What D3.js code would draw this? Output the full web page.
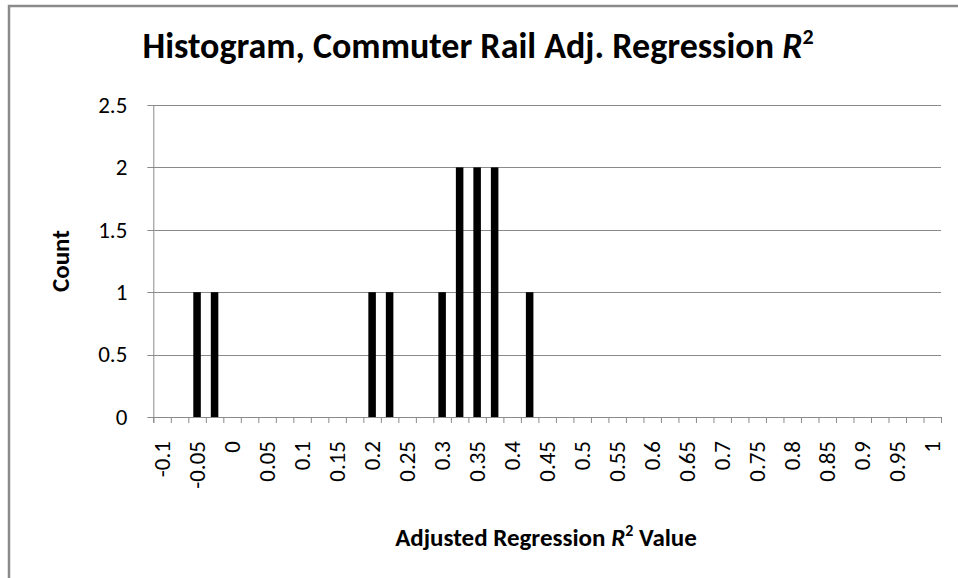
<!DOCTYPE html>
<html>
<head>
<meta charset="utf-8">
<script src="https://cdn.jsdelivr.net/npm/d3@7"></script>
<style>
  body { margin: 0; background: #fff; }
  svg { display: block; font-family: Calibri, Carlito, Lato, sans-serif; }
</style>
</head>
<body>
<svg id="chart"></svg>
<script>
// Data
const categories = ["-0.1", "-0.075", "-0.05", "-0.025", "0", "0.025", "0.05", "0.075", "0.1", "0.125",
  "0.15", "0.175", "0.2", "0.225", "0.25", "0.275", "0.3", "0.325", "0.35", "0.375",
  "0.4", "0.425", "0.45", "0.475", "0.5", "0.525", "0.55", "0.575", "0.6", "0.625",
  "0.65", "0.675", "0.7", "0.725", "0.75", "0.775", "0.8", "0.825", "0.85", "0.875",
  "0.9", "0.925", "0.95", "0.975", "1"];
const counts = [0, 0, 1, 1, 0, 0, 0, 0, 0, 0,
  0, 0, 1, 1, 0, 0, 1, 2, 2, 2,
  0, 1, 0, 0, 0, 0, 0, 0, 0, 0,
  0, 0, 0, 0, 0, 0, 0, 0, 0, 0,
  0, 0, 0, 0, 0];
const xTickLabels = ["-0.1", "-0.05", "0", "0.05", "0.1", "0.15", "0.2", "0.25", "0.3", "0.35", "0.4",
  "0.45", "0.5", "0.55", "0.6", "0.65", "0.7", "0.75", "0.8", "0.85", "0.9", "0.95", "1"];
const yTicks = [0, 0.5, 1, 1.5, 2, 2.5];

// Dimensions
const width = 958;
const height = 578;
const plotLeft = 153.3, plotRight = 941, plotTop = 105, plotBottom = 417;
const labelFont = "Calibri, Carlito, Lato, sans-serif";

const svg = d3.select("#chart")
  .attr("width", width)
  .attr("height", height);

// Outer frame (right and bottom edges fall outside the picture)
svg.append("rect")
  .attr("x", 9).attr("y", 6)
  .attr("width", width + 20).attr("height", height + 20)
  .attr("fill", "none")
  .attr("stroke", "#8a8a8a")
  .attr("stroke-width", 2.5);

// Scales
const x = d3.scaleBand()
  .domain(categories)
  .range([plotLeft, plotRight])
  .paddingInner(0.57)
  .paddingOuter(0.285);

const xEdge = d3.scaleLinear()
  .domain([0, categories.length])
  .range([plotLeft, plotRight]);

const y = d3.scaleLinear()
  .domain([0, 2.5])
  .range([plotBottom, plotTop]);

// Gridlines
svg.append("g")
  .selectAll("line")
  .data(yTicks)
  .enter()
  .append("line")
  .attr("x1", plotLeft - 6)
  .attr("x2", plotRight)
  .attr("y1", d => Math.round(y(d)) + 0.5)
  .attr("y2", d => Math.round(y(d)) + 0.5)
  .attr("stroke", "#8a8a8a")
  .attr("stroke-width", 1);

// Y axis
const yAxis = svg.append("g")
  .attr("transform", `translate(${plotLeft}, 0)`)
  .call(d3.axisLeft(y).tickValues(yTicks).tickSize(0).tickPadding(26).tickFormat(d3.format("")));
yAxis.select(".domain").attr("stroke", "#8a8a8a");
yAxis.selectAll("text")
  .attr("font-size", 23)
  .attr("fill", "#000")
  .style("font-family", labelFont);

// Bars
svg.append("g")
  .selectAll("rect")
  .data(counts)
  .enter()
  .append("rect")
  .attr("x", (d, i) => x(categories[i]))
  .attr("y", d => y(d))
  .attr("width", x.bandwidth())
  .attr("height", d => y(0) - y(d))
  .attr("fill", "#000");

// X axis: tick marks between categories
const xTicks = svg.append("g")
  .attr("transform", `translate(0, ${plotBottom})`)
  .call(d3.axisBottom(xEdge).tickValues(d3.range(categories.length + 1)).tickFormat("").tickSizeOuter(0).tickSize(6));
xTicks.selectAll("line").attr("stroke", "#8a8a8a");
xTicks.select(".domain").attr("stroke", "#8a8a8a");

// X axis labels (every other category)
const xLabels = svg.append("g")
  .attr("transform", `translate(0, ${plotBottom})`)
  .call(d3.axisBottom(x).tickSize(0).tickSizeOuter(0)
    .tickFormat(d => xTickLabels.includes(d) ? d : ""));
xLabels.select(".domain").remove();
xLabels.selectAll("text")
  .attr("font-size", 23)
  .attr("fill", "#000")
  .style("font-family", labelFont)
  .attr("transform", "rotate(-90)")
  .attr("text-anchor", "end")
  .attr("x", -24)
  .attr("y", 0)
  .attr("dy", "0.35em");

// Title
const title = svg.append("text")
  .attr("x", 478)
  .attr("y", 58)
  .attr("text-anchor", "middle")
  .attr("font-size", 36)
  .attr("font-weight", "bold")
  .text("Histogram, Commuter Rail  Adj. Regression ");
title.append("tspan").attr("font-style", "italic").text("R");
title.append("tspan").attr("font-size", 22).attr("dy", -14).text("2");

// Y axis title
svg.append("text")
  .attr("transform", "translate(69, 261) rotate(-90)")
  .attr("text-anchor", "middle")
  .attr("font-size", 25)
  .attr("font-weight", "bold")
  .text("Count");

// X axis title
const xTitle = svg.append("text")
  .attr("x", 546)
  .attr("y", 546)
  .attr("text-anchor", "middle")
  .attr("font-size", 25)
  .attr("font-weight", "bold");
xTitle.append("tspan").text("Adjusted Regression ");
xTitle.append("tspan").attr("font-style", "italic").text("R");
xTitle.append("tspan").attr("font-size", 16).attr("dy", -10).text("2");
xTitle.append("tspan").attr("dy", 10).text(" Value");
</script>
</body>
</html>
